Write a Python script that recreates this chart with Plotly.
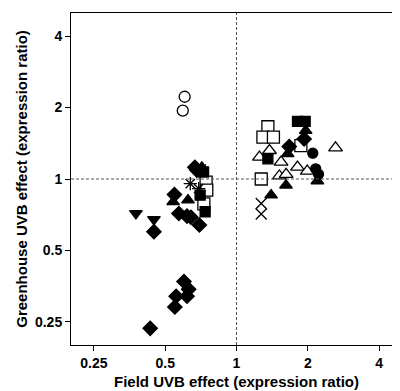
import plotly.graph_objects as go
import math

# Data (field ratio x, greenhouse ratio y), per marker group
open_circle_x = [0.604, 0.593]
open_circle_y = [2.22, 1.94]

diamond_x = [0.432, 0.549, 0.556, 0.600, 0.628, 0.618, 0.448, 0.547, 0.571, 0.618, 0.642, 0.697, 0.680, 0.667,
             1.93, 1.67]
diamond_y = [0.235, 0.289, 0.321, 0.370, 0.343, 0.321, 0.600, 0.860, 0.716, 0.698, 0.690, 0.640, 1.09, 1.12,
             1.474, 1.37]

inv_tri_x = [0.376, 0.448]
inv_tri_y = [0.716, 0.676]

tri_x = [0.540, 0.624, 0.714, 1.96, 1.645, 2.196, 1.618, 1.40]
tri_y = [0.801, 0.815, 1.12, 1.598, 1.276, 0.981, 0.941, 0.855]

asterisk_x = [0.638, 0.692, 0.71]
asterisk_y = [0.956, 0.911, 1.10]

open_sq_x = [0.744, 0.749, 0.728, 1.357, 1.293, 1.432, 1.272, 1.87]
open_sq_y = [0.971, 0.897, 0.786, 1.66, 1.50, 1.50, 1.0, 1.383]

sq_x = [0.702, 0.737, 0.726, 1.81, 1.95, 1.357]
sq_y = [0.855, 0.728, 1.07, 1.75, 1.75, 1.216]

circle_x = [2.10, 2.16, 2.22]
circle_y = [1.284, 1.104, 1.046]

open_tri_x = [2.62, 1.25, 1.378, 1.542, 1.81, 1.99, 1.517, 1.62]
open_tri_y = [1.352, 1.236, 1.318, 1.178, 1.122, 1.08, 1.03, 1.046]

x_mark_x = [1.272, 1.272]
x_mark_y = [0.788, 0.712]

tick_vals = [0.25, 0.5, 1, 2, 4]
tick_text = ["0.25", "0.5", "1", "2", "4"]

fig = go.Figure()

def add(x, y, symbol, size, open_=False, lw=1.3):
    fig.add_trace(go.Scatter(
        x=x, y=y, mode="markers",
        marker=dict(symbol=symbol, size=size,
                    color="white" if open_ else "black",
                    line=dict(color="black", width=lw)),
        showlegend=False, hoverinfo="skip"))

add(open_circle_x, open_circle_y, "circle", 11, open_=True)
add(open_sq_x, open_sq_y, "square", 12, open_=True)
add(open_tri_x, open_tri_y, "triangle-up", 12, open_=True)
add(diamond_x, diamond_y, "diamond", 11)
add(inv_tri_x, inv_tri_y, "triangle-down", 11)
add(tri_x, tri_y, "triangle-up", 11)
add(sq_x, sq_y, "square", 10)
add(circle_x, circle_y, "circle", 10)
add(asterisk_x, asterisk_y, "asterisk-open", 11, lw=1.3)
add(x_mark_x, x_mark_y, "x-thin-open", 11, lw=1.3)

fig.add_shape(type="line", xref="x", yref="paper", x0=1, x1=1, y0=0, y1=1,
              line=dict(color="#555555", width=1, dash="3px,2px"))
fig.add_shape(type="line", xref="paper", yref="y", x0=0, x1=1, y0=1, y1=1,
              line=dict(color="#555555", width=1, dash="3px,2px"))

font_family = "Liberation Sans, Arial, sans-serif"
axis_common = dict(
    type="log", range=[math.log10(0.2), math.log10(5)],
    tickvals=tick_vals, ticktext=tick_text,
    showgrid=False, zeroline=False,
    showline=True, linecolor="black", linewidth=1, mirror=True,
    ticks="outside", ticklen=5, tickcolor="black", tickwidth=1,
    tickfont=dict(family=font_family, size=14, color="black", weight="bold"),
)

fig.update_layout(
    width=400, height=391,
    margin=dict(l=63, r=6, t=5, b=54),
    plot_bgcolor="white", paper_bgcolor="white",
    xaxis=dict(**axis_common,
               title=dict(text="Field UVB effect (expression ratio)", standoff=6,
                          font=dict(family=font_family, size=15, color="black", weight="bold"))),
    yaxis=dict(**axis_common,
               title=dict(text="Greenhouse UVB effect (expression ratio)", standoff=3,
                          font=dict(family=font_family, size=15, color="black", weight="bold"))),
)

fig.write_html("out.html")
